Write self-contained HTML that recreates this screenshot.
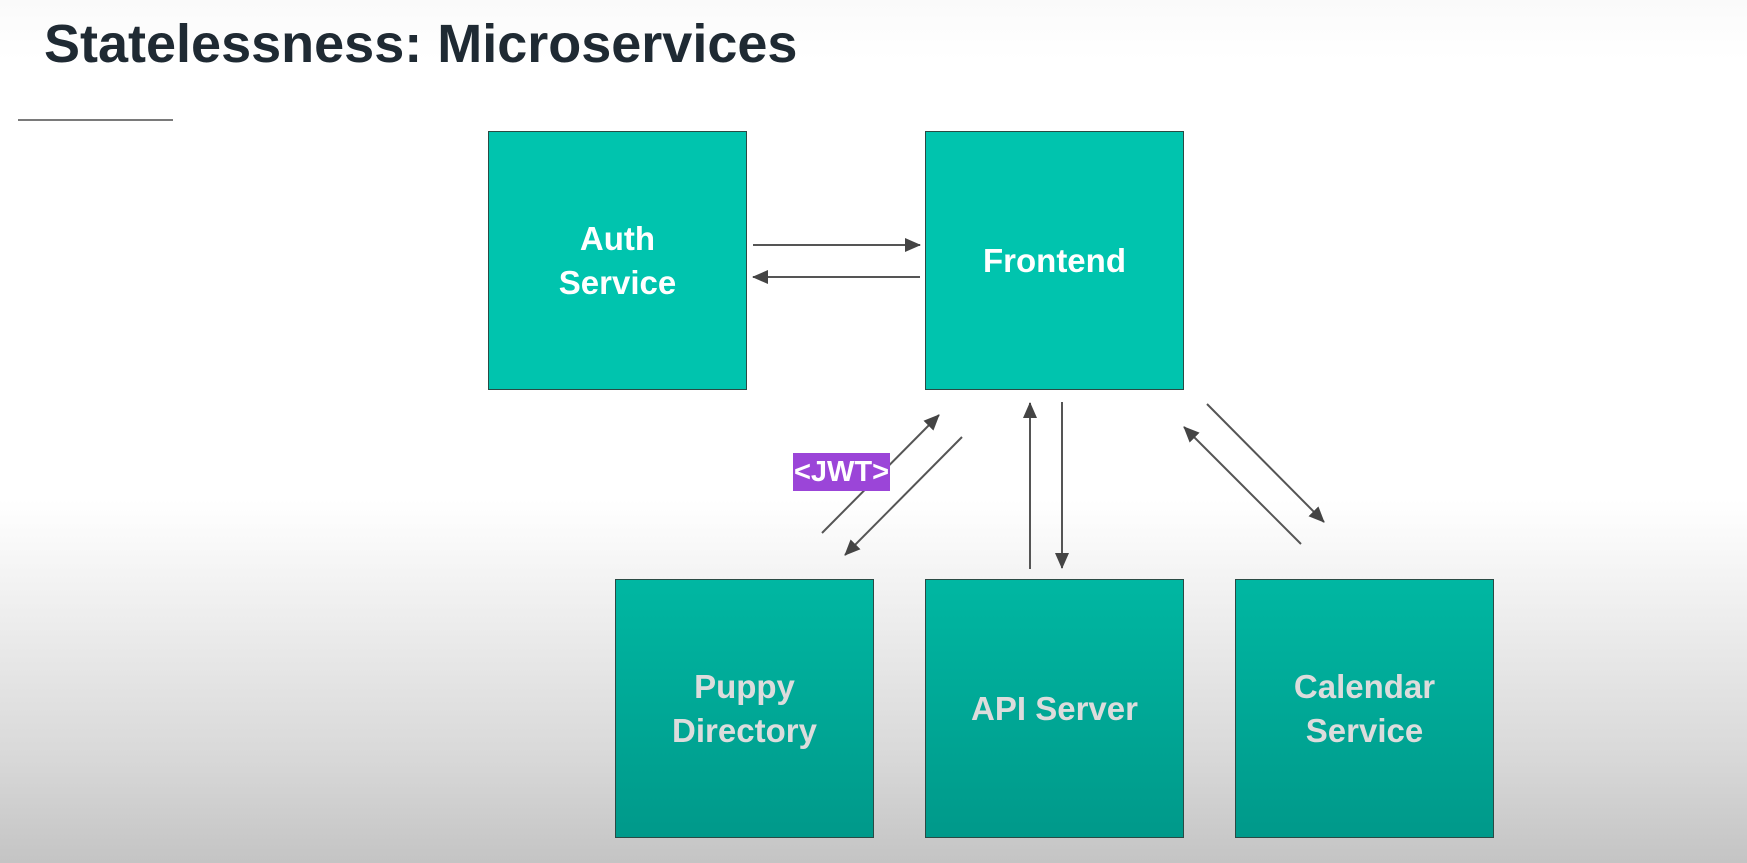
<!DOCTYPE html>
<html><head><style>
html,body{margin:0;padding:0;}
body{width:1747px;height:863px;position:relative;overflow:hidden;font-family:"Liberation Sans",sans-serif;
background:linear-gradient(to bottom,#fafafa 0px,#ffffff 60px,#ffffff 500px,#f0f0f0 600px,#d8d8d8 760px,#c4c4c4 863px);}
.title{position:absolute;left:44px;top:14px;font-size:54px;font-weight:bold;color:#1f2a33;white-space:nowrap;transform-origin:0 0;transform:scaleX(1.0);line-height:60px;}
.rule{position:absolute;left:18px;top:119px;width:155px;height:2px;background:#7a7a7a;}
.box{position:absolute;width:259px;height:259px;background:#00c4ae;border:1px solid #2a4a44;box-sizing:border-box;display:flex;align-items:center;justify-content:center;text-align:center;color:#fff;font-weight:bold;font-size:33px;line-height:44px;}
.bot{background:linear-gradient(to bottom,#00b7a2,#00998a);color:#dcdcdc;}
.jwt{position:absolute;left:793px;top:453px;width:97px;height:38px;background:#9b45d8;color:#fff;font-weight:bold;font-size:29px;line-height:38px;text-align:center;}
</style></head><body>
<div class="title">Statelessness: Microservices</div>
<div class="rule"></div>
<div class="box" style="left:488px;top:131px;">Auth<br>Service</div>
<div class="box" style="left:925px;top:131px;">Frontend</div>
<div class="box bot" style="left:615px;top:579px;">Puppy<br>Directory</div>
<div class="box bot" style="left:925px;top:579px;">API Server</div>
<div class="box bot" style="left:1235px;top:579px;">Calendar<br>Service</div>
<svg width="1747" height="863" style="position:absolute;left:0;top:0" viewBox="0 0 1747 863">
<defs>
<marker id="b" markerWidth="16" markerHeight="14" refX="15" refY="7" orient="auto" markerUnits="userSpaceOnUse" viewBox="0 0 16 14">
<path d="M0,0 L16,7 L0,14 z" fill="#444"/></marker></defs>
<g stroke="#555" stroke-width="2" fill="none">
<line x1="753" y1="245" x2="920" y2="245" marker-end="url(#b)"/>
<line x1="920" y1="277" x2="753" y2="277" marker-end="url(#b)"/>
<line x1="822" y1="533" x2="939" y2="415" marker-end="url(#b)"/>
<line x1="962" y1="437" x2="845" y2="555" marker-end="url(#b)"/>
<line x1="1030" y1="569" x2="1030" y2="403" marker-end="url(#b)"/>
<line x1="1062" y1="402" x2="1062" y2="568" marker-end="url(#b)"/>
<line x1="1207" y1="404" x2="1324" y2="522" marker-end="url(#b)"/>
<line x1="1301" y1="544" x2="1184" y2="427" marker-end="url(#b)"/>
</g>
</svg>
<div class="jwt">&lt;JWT&gt;</div>
</body></html>
